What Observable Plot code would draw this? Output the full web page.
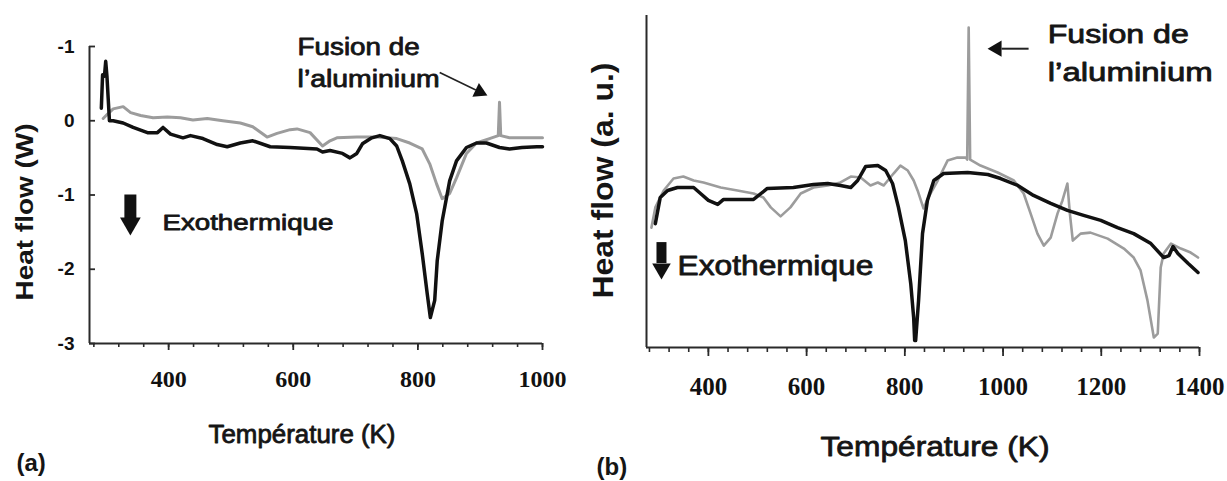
<!DOCTYPE html>
<html>
<head>
<meta charset="utf-8">
<script src="https://cdn.jsdelivr.net/npm/d3@7"></script>
<script src="https://cdn.jsdelivr.net/npm/@observablehq/plot@0.6"></script>
<style>
html, body { margin: 0; padding: 0; background: #fff; }
#wrap { position: relative; width: 1227px; height: 481px; overflow: hidden; background: #fff; }
#wrap svg { position: absolute; top: 0; overflow: visible; }
</style>
</head>
<body>
<div id="wrap"></div>
<script>
// ---------------- Panel (a): heat flow (W) vs temperature (K) ----------------
const tempA_black = [292, 294, 297, 299, 301, 303, 305, 311, 327, 343, 366, 382, 391, 403, 423, 435, 455, 478, 494, 515, 535, 563, 595, 638, 647, 659, 679, 691, 702, 711, 726, 739, 755, 766, 775, 787, 798, 807, 815, 820, 827, 831, 839, 851, 862, 878, 894, 910, 931, 947, 967, 991, 1000];
const flowA_black = [0.17, 0.62, 0.60, 0.80, 0.60, 0.30, 0.0, 0.0, -0.03, -0.09, -0.16, -0.16, -0.09, -0.18, -0.23, -0.20, -0.24, -0.32, -0.35, -0.30, -0.27, -0.35, -0.36, -0.38, -0.42, -0.40, -0.44, -0.50, -0.44, -0.31, -0.23, -0.20, -0.24, -0.34, -0.54, -0.85, -1.25, -1.79, -2.33, -2.65, -2.42, -1.89, -1.35, -0.81, -0.54, -0.36, -0.30, -0.30, -0.36, -0.38, -0.36, -0.35, -0.35];
const tempA_gray = [295, 302, 311, 327, 339, 355, 375, 398, 419, 439, 462, 487, 515, 535, 558, 574, 595, 606, 627, 647, 659, 670, 702, 734, 766, 787, 807, 819, 830, 839, 851, 862, 878, 894, 915, 929, 931, 933, 947, 967, 991, 1000];
const flowA_gray = [0.03, 0.09, 0.16, 0.19, 0.11, 0.07, 0.04, 0.05, 0.04, 0.01, 0.03, 0.0, -0.03, -0.08, -0.22, -0.17, -0.12, -0.11, -0.16, -0.34, -0.27, -0.23, -0.22, -0.22, -0.24, -0.30, -0.38, -0.58, -0.85, -1.05, -0.98, -0.77, -0.44, -0.30, -0.24, -0.20, 0.25, -0.20, -0.23, -0.23, -0.23, -0.23];

const yTicksA = [1, 0, -1, -2, -3];
const yTickLabelsA = ["-1", "0", "-1", "-2", "-3"];
const xMajorA = [400, 600, 800, 1000];
const xMinorA = [280, 320, 360, 400, 440, 480, 520, 560, 600, 640, 680, 720, 760, 800, 840, 880, 920, 960, 1000];

// annotations (data coordinates of panel a)
const noteA_text = ["Fusion de", "l\u2019aluminium"];
const noteA_x = [607, 607];
const noteA_y = [0.88, 0.45];
const arrowA_x1 = [835], arrowA_y1 = [0.65], arrowA_x2 = [893], arrowA_y2 = [0.415];
const arrowA_headX = [899], arrowA_headY = [0.39];
const exoA_x = [338.6], exoA_y1 = [-1.0], exoA_y2 = [-1.32], exoA_headY = [-1.384];
const exoA_textX = [390], exoA_textY = [-1.465];

// ---------------- Panel (b): heat flow (a.u.) vs temperature (K) ----------------
const tempB_black = [292, 302, 317, 337, 370, 384, 400, 419, 431, 492, 520, 573, 614, 643, 669, 690, 704, 720, 745, 761, 775, 787, 801, 812, 818, 820, 822, 828, 836, 846, 859, 879, 928, 969, 995, 1030, 1062, 1097, 1131, 1164, 1199, 1233, 1266, 1301, 1327, 1338, 1346, 1356, 1377, 1397];
const flowB_black = [3.73, 4.52, 4.73, 4.82, 4.82, 4.64, 4.43, 4.31, 4.46, 4.46, 4.79, 4.82, 4.91, 4.94, 4.88, 4.82, 5.03, 5.45, 5.48, 5.33, 4.94, 4.22, 3.22, 1.93, 0.90, 0.21, 0.21, 1.42, 3.43, 4.43, 5.03, 5.24, 5.27, 5.21, 5.09, 4.88, 4.58, 4.34, 4.13, 3.98, 3.83, 3.61, 3.43, 3.13, 2.71, 2.77, 3.04, 2.83, 2.53, 2.26];
const tempB_gray = [284, 292, 309, 329, 349, 370, 390, 425, 459, 492, 512, 527, 547, 567, 588, 614, 643, 669, 690, 710, 730, 745, 757, 777, 791, 806, 818, 826, 838, 848, 867, 887, 907, 924, 927, 930, 933, 954, 989, 1022, 1042, 1056, 1070, 1083, 1097, 1111, 1121, 1131, 1136, 1142, 1158, 1178, 1213, 1246, 1266, 1280, 1294, 1307, 1315, 1321, 1327, 1342, 1362, 1382, 1397];
const flowB_gray = [3.61, 4.22, 4.73, 5.09, 5.15, 5.03, 4.97, 4.82, 4.73, 4.64, 4.52, 4.22, 3.95, 4.22, 4.64, 4.82, 4.88, 4.97, 5.15, 5.12, 4.88, 4.97, 4.88, 5.24, 5.48, 5.33, 5.03, 4.73, 4.19, 4.52, 5.03, 5.63, 5.72, 5.72, 5.66, 9.64, 5.66, 5.48, 5.27, 5.03, 4.64, 4.04, 3.43, 3.07, 3.31, 4.04, 4.43, 4.94, 4.04, 3.22, 3.43, 3.46, 3.28, 2.98, 2.71, 2.32, 1.42, 0.30, 0.42, 2.41, 2.83, 3.13, 2.98, 2.86, 2.71];

const xMajorB = [400, 600, 800, 1000, 1200, 1400];
const xMinorB = [280, 320, 360, 400, 440, 480, 520, 560, 600, 640, 680, 720, 760, 800, 840, 880, 920, 960, 1000, 1040, 1080, 1120, 1160, 1200, 1240, 1280, 1320, 1360, 1400];

const noteB_text = ["Fusion de", "l\u2019aluminium"];
const noteB_x = [1091, 1091];
const noteB_y = [9.16, 8.04];
const arrowB_x1 = [1052], arrowB_x2 = [997], arrowB_y = [9.0], arrowB_headX = [987.5];
const exoB_x = [304.5], exoB_y1 = [3.16], exoB_y2 = [2.53], exoB_headY = [2.37];
const exoB_textX = [337], exoB_textY = [2.17];

// ---------------- helpers ----------------
const SANS = "'Liberation Sans', Arial, Helvetica, sans-serif";
const SERIF = "'Liberation Serif', 'Times New Roman', serif";
const AX = "#2a2a2a";
const BLACK = "#111";
const GRAY = "#9c9c9c";
const INK = "#151515";
const fmtInt = (d) => String(d);

const zip = (xs, ys) => xs.map((x, i) => ({x, y: ys[i]}));
const idx = (a) => a.map((_, i) => i);
const textInk = {fill: INK, stroke: INK, strokeWidth: 0.8, paintOrder: "fill"};

function fitText(svg, widths) {
  for (const t of svg.querySelectorAll("text")) {
    const w = widths[t.textContent];
    if (w) { t.setAttribute("textLength", w); t.setAttribute("lengthAdjust", "spacingAndGlyphs"); }
  }
}

const wrap = document.getElementById("wrap");

// ---------------- Plot (a) ----------------
const plotA = Plot.plot({
  width: 560, height: 481,
  marginLeft: 89, marginRight: 18, marginTop: 46, marginBottom: 138,
  style: {fontFamily: SANS, background: "transparent", color: "#111", overflow: "visible"},
  x: {domain: [273, 1000], axis: null},
  y: {domain: [-3, 1], axis: null},
  marks: [
    Plot.ruleY([-3], {stroke: AX, strokeWidth: 2}),
    Plot.ruleX([273], {stroke: AX, strokeWidth: 2}),
    Plot.axisX({ticks: xMinorA, tickSize: 4, fill: "none", stroke: AX, strokeWidth: 1.6, label: null}),
    Plot.axisX({ticks: xMajorA, tickSize: 7, fill: "none", stroke: AX, strokeWidth: 1.8, label: null}),
    Plot.axisX({ticks: xMajorA, tickFormat: fmtInt, tickSize: 0, tickPadding: 26, fontFamily: SERIF, fontWeight: "bold", fontSize: 24, fill: "#111", label: null}),
    Plot.axisY({ticks: yTicksA, tickSize: -6, fill: "none", stroke: AX, strokeWidth: 1.8, label: null}),
    Plot.axisY({ticks: yTicksA, tickFormat: (d) => yTickLabelsA[yTicksA.indexOf(d)], tickSize: 0, tickPadding: 15, fontWeight: "bold", fontSize: 19, fill: "#111", label: null}),
    Plot.line(zip(tempA_gray, flowA_gray), {x: "x", y: "y", stroke: GRAY, strokeWidth: 3}),
    Plot.line(zip(tempA_black, flowA_black), {x: "x", y: "y", stroke: BLACK, strokeWidth: 3.5}),
    // Fusion annotation
    Plot.text(idx(noteA_text), {x: (i) => noteA_x[i], y: (i) => noteA_y[i], text: (i) => noteA_text[i], textAnchor: "start", lineAnchor: "bottom", fontSize: 23, ...textInk}),
    Plot.link(idx(arrowA_x1), {x1: (i) => arrowA_x1[i], y1: (i) => arrowA_y1[i], x2: (i) => arrowA_x2[i], y2: (i) => arrowA_y2[i], stroke: "#222", strokeWidth: 1.6}),
    Plot.dot(idx(arrowA_headX), {x: (i) => arrowA_headX[i], y: (i) => arrowA_headY[i], symbol: "triangle", r: 5.6, rotate: 115.6, fill: "#111", stroke: null}),
    // Exothermique
    Plot.ruleX(idx(exoA_x), {x: (i) => exoA_x[i], y1: (i) => exoA_y1[i], y2: (i) => exoA_y2[i], stroke: "#111", strokeWidth: 12}),
    Plot.dot(idx(exoA_x), {x: (i) => exoA_x[i], y: (i) => exoA_headY[i], symbol: "triangle", r: 7.7, rotate: 180, fill: "#111", stroke: null}),
    Plot.text(idx(exoA_textX), {x: (i) => exoA_textX[i], y: (i) => exoA_textY[i], text: () => "Exothermique", textAnchor: "start", lineAnchor: "bottom", fontSize: 22, ...textInk}),
    // axis titles and panel tag
    Plot.text(["Heat flow (W)"], {frameAnchor: "left", dx: -64, dy: 17, rotate: -90, textAnchor: "middle", lineAnchor: "middle", fontSize: 24, fontWeight: "bold", fill: INK}),
    Plot.text(["Temp\u00e9rature (K)"], {frameAnchor: "bottom", dx: -14, dy: 99, textAnchor: "middle", lineAnchor: "bottom", fontSize: 25, ...textInk}),
    Plot.text(["(a)"], {frameAnchor: "bottom-left", dx: -73, dy: 127, textAnchor: "start", lineAnchor: "bottom", fontSize: 24, fontWeight: "bold", fill: INK})
  ]
});
plotA.style.left = "0px";
wrap.appendChild(plotA);
fitText(plotA, {"Fusion de": 122, "l\u2019aluminium": 142, "Exothermique": 171, "Heat flow (W)": 177, "Temp\u00e9rature (K)": 187});

// ---------------- Plot (b) ----------------
const plotB = Plot.plot({
  width: 667, height: 481,
  marginLeft: 86, marginRight: 28, marginTop: 15, marginBottom: 134,
  style: {fontFamily: SANS, background: "transparent", color: "#111", overflow: "visible"},
  x: {domain: [274, 1400], axis: null},
  y: {domain: [0, 10], axis: null},
  marks: [
    Plot.ruleY([0], {stroke: AX, strokeWidth: 2}),
    Plot.ruleX([274], {stroke: AX, strokeWidth: 2}),
    Plot.axisX({ticks: xMinorB, tickSize: 5, fill: "none", stroke: AX, strokeWidth: 1.6, label: null}),
    Plot.axisX({ticks: xMajorB, tickSize: 9, fill: "none", stroke: AX, strokeWidth: 1.8, label: null}),
    Plot.axisX({ticks: xMajorB, tickFormat: fmtInt, tickSize: 0, tickPadding: 30, fontFamily: SERIF, fontWeight: "bold", fontSize: 25, fill: "#111", label: null}),
    Plot.line(zip(tempB_gray, flowB_gray), {x: "x", y: "y", stroke: GRAY, strokeWidth: 2.6}),
    Plot.line(zip(tempB_black, flowB_black), {x: "x", y: "y", stroke: BLACK, strokeWidth: 3.5}),
    Plot.text(idx(noteB_text), {x: (i) => noteB_x[i], y: (i) => noteB_y[i], text: (i) => noteB_text[i], textAnchor: "start", lineAnchor: "bottom", fontSize: 25, ...textInk}),
    Plot.link(idx(arrowB_x1), {x1: (i) => arrowB_x1[i], y1: (i) => arrowB_y[i], x2: (i) => arrowB_x2[i], y2: (i) => arrowB_y[i], stroke: "#222", strokeWidth: 2}),
    Plot.dot(idx(arrowB_headX), {x: (i) => arrowB_headX[i], y: (i) => arrowB_y[i], symbol: "triangle", r: 6, rotate: 270, fill: "#111", stroke: null}),
    Plot.ruleX(idx(exoB_x), {x: (i) => exoB_x[i], y1: (i) => exoB_y1[i], y2: (i) => exoB_y2[i], stroke: "#111", strokeWidth: 10}),
    Plot.dot(idx(exoB_x), {x: (i) => exoB_x[i], y: (i) => exoB_headY[i], symbol: "triangle", r: 6.9, rotate: 180, fill: "#111", stroke: null}),
    Plot.text(idx(exoB_textX), {x: (i) => exoB_textX[i], y: (i) => exoB_textY[i], text: () => "Exothermique", textAnchor: "start", lineAnchor: "bottom", fontSize: 28, ...textInk}),
    Plot.text(["Heat flow (a. u.)"], {frameAnchor: "left", dx: -43, dy: -1, rotate: -90, textAnchor: "middle", lineAnchor: "middle", fontSize: 30, fontWeight: "bold", fill: INK}),
    Plot.text(["Temp\u00e9rature (K)"], {frameAnchor: "bottom", dx: 12, dy: 108, textAnchor: "middle", lineAnchor: "bottom", fontSize: 28, ...textInk}),
    Plot.text(["(b)"], {frameAnchor: "bottom-left", dx: -50, dy: 127, textAnchor: "start", lineAnchor: "bottom", fontSize: 24, fontWeight: "bold", fill: INK})
  ]
});
plotB.style.left = "560px";
wrap.appendChild(plotB);
fitText(plotB, {"Fusion de": 141, "l\u2019aluminium": 165, "Exothermique": 196, "Heat flow (a. u.)": 236, "Temp\u00e9rature (K)": 229});
</script>
</body>
</html>
